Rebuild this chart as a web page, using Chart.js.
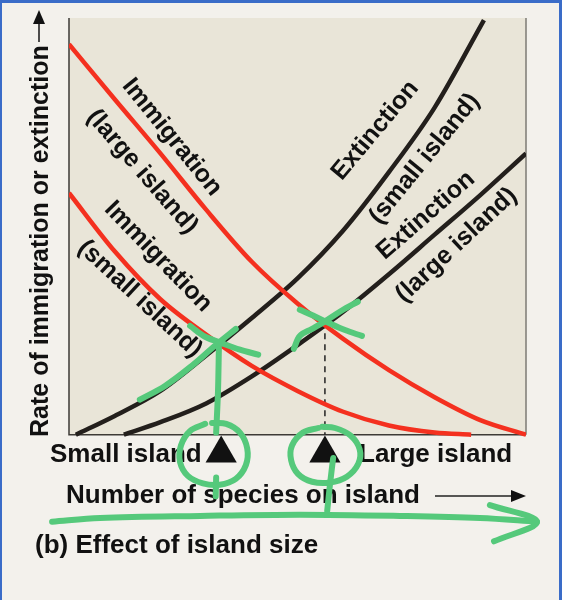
<!DOCTYPE html>
<html>
<head>
<meta charset="utf-8">
<script src="https://cdn.jsdelivr.net/npm/chart.js@4.4.1/dist/chart.umd.min.js"></script>
<style>
  html, body { margin: 0; padding: 0; background: #f3f1ec; }
  canvas { display: block; }
</style>
</head>
<body>
<canvas id="islandChart" width="562" height="600"></canvas>
<script>
// ── Data (x = number of species, y = rate; both 0–100) ─────────────────────
const immLargeX = [0, 10, 20, 30, 40, 50, 60, 70, 80, 90, 100];
const immLargeY = [93.7, 80.5, 67.5, 54, 41.5, 31.5, 23, 15.5, 9, 3.5, 0];
const immSmallX = [0, 10, 20, 30, 40, 50, 60, 70, 80, 88];
const immSmallY = [58, 44, 32.5, 24, 16.5, 10.5, 5.5, 2.2, 0.5, 0];
const extSmallX = [1.5, 10, 20, 30, 40, 50, 60, 70, 80, 90.8];
const extSmallY = [0, 4.5, 10.5, 19, 28, 37.5, 49, 63, 78.5, 99.5];
const extLargeX = [12, 20, 30, 40, 50, 60, 70, 80, 90, 100];
const extLargeY = [0, 3, 7.5, 14, 21.5, 29.5, 38.5, 48, 57.5, 67.5];

// equilibrium species numbers (small island, large island) and marker level
const equilibriumX = [33.3, 56];
const equilibriumRate = 27;
const markerY = -4.5;

// hand-drawn green annotations (same data units, may fall outside 0–100)
const penCrossSmallA = [[15.5, 8.4], [21, 11.7], [26.5, 16.2], [32, 21.4], [36.5, 25.4]];
const penCrossSmallB = [[26.5, 26.1], [29.8, 23.5], [33.1, 22.1], [37.4, 20.4], [41.4, 19.2]];
const penDropSmall   = [[32.8, 20.9], [32.6, 10.3], [32.2, 0.5]];
const penCircleSmall = [[29.8, 2.6], [26.5, 0.9], [24.5, -2.6], [24.3, -6.6], [26, -9.9], [29.3, -11.7],
                        [33, -12], [36.5, -10.6], [38.7, -7.3], [39, -3.3], [37.4, 0.5], [34.4, 2.6], [31.3, 2.8]];
const penTailSmall   = [[32.2, -10.3], [32.1, -14.8]];
const penCrossLargeA = [[49.2, 20.6], [50.5, 23.7], [53.2, 25.4], [56, 27.2], [59.7, 29.8], [63.2, 31.9]];
const penCrossLargeB = [[50.5, 30], [53.4, 28.6], [56.5, 27], [60.4, 25.1], [64.1, 23.7]];
const penCircleLarge = [[54.5, 1.6], [51.2, 0.5], [48.8, -2.6], [48.6, -6.1], [50.1, -9.4], [53.2, -11.3],
                        [57.1, -11.5], [60.8, -10.1], [63.3, -7], [63.6, -3.5], [61.6, -0.2], [58.2, 1.6], [55.4, 1.9]];
const penDropLarge   = [[57.8, -5.6], [57.1, -12], [56.5, -18.3]];
const penArrowLine   = [[-3.7, -20.9], [6.8, -20], [28.7, -19.5], [50.5, -19.2], [72.4, -19.5], [89.9, -20], [102.4, -20.9]];
const penArrowHead   = [[92.1, -16.9], [102.4, -20.9], [93, -25.6]];

// curve labels: text, anchor (data units), rotation in degrees
const curveLabels = [
  { text: 'Immigration',    x: 22.5, y: 71.4, angle: 51 },
  { text: '(large island)', x: 16,   y: 63.1, angle: 49 },
  { text: 'Immigration',    x: 19.5, y: 42.7, angle: 46 },
  { text: '(small island)', x: 15.5, y: 32.6, angle: 43 },
  { text: 'Extinction',     x: 67,   y: 73,   angle: -50 },
  { text: '(small island)', x: 77.8, y: 66.2, angle: -51 },
  { text: 'Extinction',     x: 78.1, y: 52.6, angle: -41 },
  { text: '(large island)', x: 84.8, y: 45.5, angle: -43 },
];

const FONT = '"Liberation Sans", Arial, Helvetica, sans-serif';
const RED = '#f4301f', INK = '#231f1c', PEN = '#55c97b';

const pts  = (xs, ys) => xs.map((x, i) => ({ x, y: ys[i] }));
const pair = arr => arr.map(([x, y]) => ({ x, y }));

const curve = (data, color) => ({
  data, borderColor: color, borderWidth: 4.5, pointRadius: 0,
  cubicInterpolationMode: 'monotone', fill: false, order: 2
});
const pen = data => ({
  data: pair(data), borderColor: PEN, borderWidth: 6, pointRadius: 0, tension: 0.35,
  borderCapStyle: 'round', borderJoinStyle: 'round', fill: false, clip: false, order: 0
});

// ── Static figure parts (background, frame, axes, texts) ───────────────────
const figure = {
  id: 'figure',
  beforeDraw(chart) {
    const { ctx, chartArea: a, width: W, height: H, scales: { y } } = chart;
    const y0 = y.getPixelForValue(0);
    ctx.save();
    ctx.fillStyle = '#f3f1ec';
    ctx.fillRect(0, 0, W, H);
    ctx.fillStyle = '#e9e5d8';
    ctx.fillRect(a.left, a.top, a.right - a.left, y0 - a.top);
    ctx.fillStyle = '#3a6cc8';
    ctx.fillRect(0, 0, W, 3);
    ctx.fillRect(0, 0, 2, H);
    ctx.fillRect(W - 3, 0, 3, H);
    ctx.restore();
  },
  beforeDatasetsDraw(chart) {
    const { ctx, chartArea: a, scales: { x, y } } = chart;
    const y0 = y.getPixelForValue(0);
    ctx.save();
    // frame of the plot
    ctx.strokeStyle = '#7d7a74'; ctx.lineWidth = 1.5;
    ctx.beginPath(); ctx.moveTo(a.right, a.top); ctx.lineTo(a.right, y0); ctx.stroke();
    ctx.strokeStyle = '#3d3a36'; ctx.lineWidth = 1.5;
    ctx.beginPath(); ctx.moveTo(a.left, a.top); ctx.lineTo(a.left, y0); ctx.lineTo(a.right, y0); ctx.stroke();

    // curve labels
    ctx.fillStyle = '#111';
    ctx.font = `bold 25px ${FONT}`;
    ctx.textAlign = 'center'; ctx.textBaseline = 'middle';
    for (const l of curveLabels) {
      ctx.save();
      ctx.translate(x.getPixelForValue(l.x), y.getPixelForValue(l.y));
      ctx.rotate(l.angle * Math.PI / 180);
      ctx.fillText(l.text, 0, 0);
      ctx.restore();
    }

    // axis texts
    ctx.font = `bold 26px ${FONT}`;
    ctx.textAlign = 'left'; ctx.textBaseline = 'alphabetic';
    ctx.fillText('Small island', 50, 462);
    ctx.fillText('Large island', 359, 462);
    ctx.fillText('Number of species on island', 66, 503);
    ctx.fillText('(b) Effect of island size', 35, 553);

    ctx.font = `bold 25px ${FONT}`;
    ctx.save();
    ctx.translate(48, 437);
    ctx.rotate(-Math.PI / 2);
    ctx.fillText('Rate of immigration or extinction', 0, 0);
    ctx.restore();

    // axis arrows
    ctx.strokeStyle = '#222'; ctx.lineWidth = 1.6;
    ctx.beginPath(); ctx.moveTo(435, 496); ctx.lineTo(514, 496); ctx.stroke();
    ctx.beginPath(); ctx.moveTo(526, 496); ctx.lineTo(511, 490); ctx.lineTo(511, 502); ctx.closePath(); ctx.fill();
    ctx.beginPath(); ctx.moveTo(39, 42); ctx.lineTo(39, 22); ctx.stroke();
    ctx.beginPath(); ctx.moveTo(39, 10); ctx.lineTo(33, 24); ctx.lineTo(45, 24); ctx.closePath(); ctx.fill();
    ctx.restore();
  }
};

new Chart(document.getElementById('islandChart'), {
  type: 'line',
  data: {
    datasets: [
      pen(penCrossSmallA), pen(penCrossSmallB), pen(penDropSmall), pen(penCircleSmall), pen(penTailSmall),
      pen(penCrossLargeA), pen(penCrossLargeB), pen(penCircleLarge), pen(penDropLarge),
      pen(penArrowLine), pen(penArrowHead),
      { type: 'scatter', data: equilibriumX.map(v => ({ x: v, y: markerY })), pointStyle: 'triangle',
        pointRadius: 18, pointBackgroundColor: '#111', pointBorderColor: '#111', pointBorderWidth: 0, order: 1 },
      { data: [{ x: equilibriumX[1], y: equilibriumRate }, { x: equilibriumX[1], y: 0 }],
        borderColor: '#222', borderWidth: 1.5, borderDash: [6, 5], pointRadius: 0, order: 3 },
      curve(pts(immLargeX, immLargeY), RED),
      curve(pts(immSmallX, immSmallY), RED),
      curve(pts(extSmallX, extSmallY), INK),
      curve(pts(extLargeX, extLargeY), INK),
    ]
  },
  options: {
    responsive: false, animation: false, events: [],
    layout: { padding: { left: 69, right: 36, top: 8, bottom: 132 } },
    plugins: { legend: { display: false }, tooltip: { enabled: false } },
    scales: {
      x: { type: 'linear', min: 0, max: 100, display: false },
      y: { type: 'linear', min: -8, max: 100, display: false }
    }
  },
  plugins: [figure]
});
</script>
</body>
</html>
